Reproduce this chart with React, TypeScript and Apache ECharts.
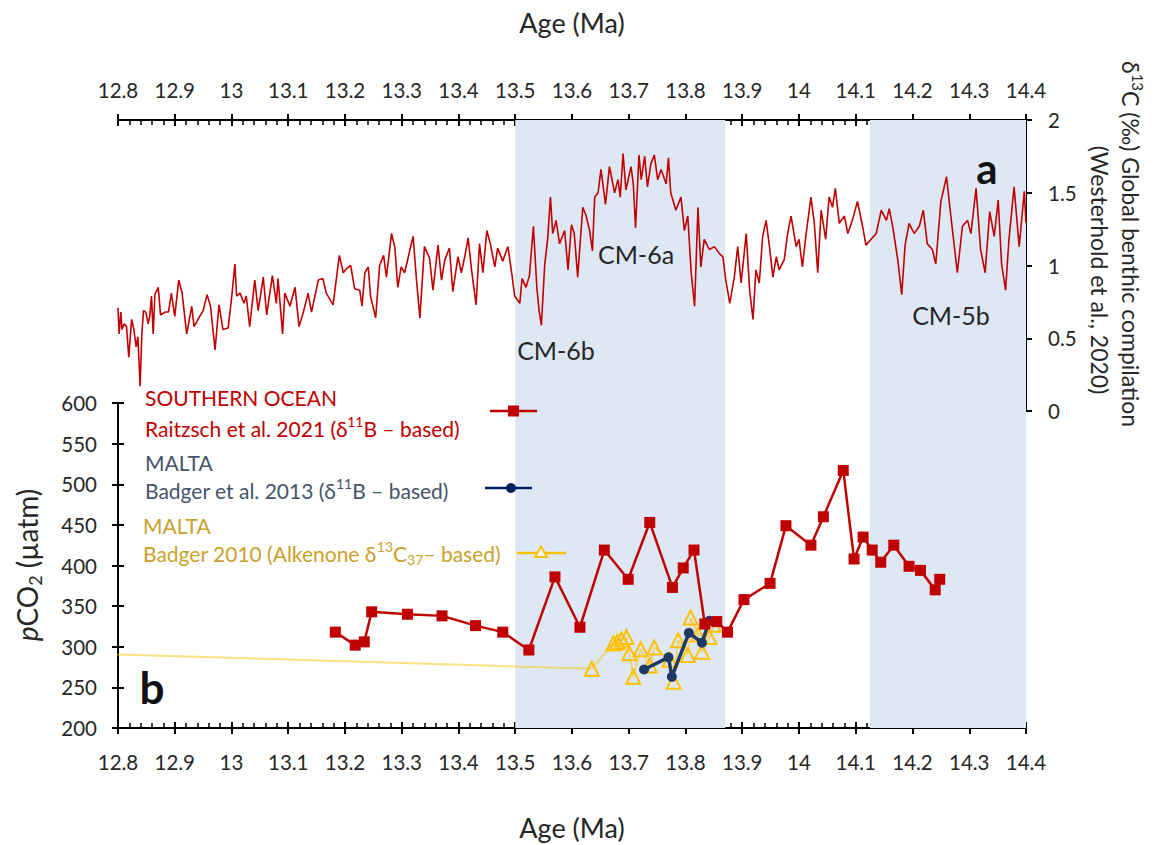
import { useEffect, useRef } from "react";
import * as echarts from "echarts";

const FONT = "Lato, 'Noto Sans', 'DejaVu Sans', sans-serif";

// Shared age axis (Ma)
const AGE_MIN = 12.8;
const AGE_MAX = 14.4;
const AGE_STEP = 0.1;

// Panel a: benthic δ13C (‰)
const D13C_MIN = 0;
const D13C_MAX = 2;
const D13C_STEP = 0.5;

// Panel b: pCO2 (µatm)
const PCO2_MIN = 200;
const PCO2_MAX = 600;
const PCO2_STEP = 50;

// Carbon-isotope maxima intervals (shaded bands), ages in Ma
const shadedIntervals: [number, number][] = [
  [13.5, 13.87],
  [14.125, 14.4],
];

// Global benthic δ13C compilation (Westerhold et al., 2020): [age, δ13C]
const benthicD13C: [number, number][] = [
  [12.8, 0.71], [12.802, 0.53], [12.805, 0.68], [12.807, 0.56], [12.811, 0.6], [12.815, 0.58],
  [12.819, 0.37], [12.824, 0.63], [12.828, 0.56], [12.832, 0.44], [12.835, 0.51], [12.839, 0.17],
  [12.842, 0.53], [12.845, 0.69], [12.849, 0.68], [12.853, 0.6], [12.856, 0.65], [12.859, 0.79],
  [12.862, 0.53], [12.865, 0.8], [12.871, 0.85], [12.875, 0.66], [12.883, 0.68], [12.889, 0.68],
  [12.894, 0.81], [12.9, 0.65], [12.907, 0.9], [12.913, 0.81], [12.921, 0.53], [12.93, 0.72],
  [12.934, 0.58], [12.944, 0.65], [12.95, 0.69], [12.957, 0.8], [12.963, 0.72], [12.971, 0.42],
  [12.978, 0.73], [12.985, 0.56], [12.994, 0.57], [13.0, 0.77], [13.006, 1.01], [13.009, 0.79],
  [13.015, 0.81], [13.022, 0.74], [13.026, 0.79], [13.032, 0.58], [13.041, 0.9], [13.047, 0.69],
  [13.056, 0.92], [13.062, 0.66], [13.072, 0.93], [13.079, 0.74], [13.082, 0.91], [13.09, 0.53],
  [13.094, 0.81], [13.103, 0.72], [13.112, 0.85], [13.119, 0.58], [13.126, 0.67], [13.135, 0.81],
  [13.141, 0.68], [13.153, 0.9], [13.161, 0.91], [13.167, 0.81], [13.179, 0.73], [13.19, 1.07],
  [13.197, 0.95], [13.203, 0.98], [13.21, 1.0], [13.217, 0.84], [13.226, 0.83], [13.23, 0.72],
  [13.235, 0.95], [13.241, 0.99], [13.245, 0.79], [13.254, 0.64], [13.261, 1.0], [13.268, 1.07],
  [13.273, 0.92], [13.282, 1.22], [13.288, 1.12], [13.293, 0.85], [13.299, 0.99], [13.305, 0.95],
  [13.311, 1.05], [13.32, 1.2], [13.326, 0.9], [13.332, 0.64], [13.34, 1.13], [13.349, 1.05],
  [13.355, 0.83], [13.364, 1.14], [13.37, 0.9], [13.376, 1.04], [13.384, 1.12], [13.39, 0.82],
  [13.399, 1.06], [13.405, 0.95], [13.411, 1.06], [13.417, 1.19], [13.423, 0.97], [13.431, 0.73],
  [13.437, 1.15], [13.443, 0.95], [13.45, 1.24], [13.456, 1.15], [13.464, 0.99], [13.469, 1.12],
  [13.478, 1.03], [13.487, 1.13], [13.493, 0.97], [13.499, 0.79], [13.508, 0.74], [13.512, 0.91],
  [13.519, 0.85], [13.525, 0.93], [13.532, 1.27], [13.538, 0.85], [13.542, 0.69], [13.546, 0.59],
  [13.552, 1.01], [13.557, 1.18], [13.562, 1.47], [13.566, 1.22], [13.572, 1.31], [13.578, 1.15],
  [13.587, 1.24], [13.593, 0.97], [13.599, 1.28], [13.604, 1.22], [13.61, 0.92], [13.619, 1.4],
  [13.625, 1.34], [13.631, 1.24], [13.636, 1.1], [13.64, 1.47], [13.646, 1.5], [13.651, 1.66],
  [13.659, 1.42], [13.666, 1.68], [13.675, 1.5], [13.681, 1.59], [13.685, 1.47], [13.69, 1.77],
  [13.695, 1.52], [13.704, 1.68], [13.708, 1.56], [13.712, 1.26], [13.718, 1.76], [13.722, 1.59],
  [13.728, 1.75], [13.733, 1.54], [13.739, 1.7], [13.745, 1.76], [13.751, 1.59], [13.757, 1.66],
  [13.766, 1.56], [13.77, 1.74], [13.774, 1.5], [13.783, 1.38], [13.792, 1.47], [13.798, 1.24],
  [13.804, 1.34], [13.81, 0.95], [13.816, 0.72], [13.822, 1.4], [13.827, 0.99], [13.833, 1.18],
  [13.842, 1.11], [13.851, 1.13], [13.86, 1.08], [13.866, 1.06], [13.871, 0.9], [13.878, 0.74],
  [13.886, 0.92], [13.892, 1.13], [13.898, 0.88], [13.907, 1.22], [13.913, 0.83], [13.919, 0.63],
  [13.924, 0.97], [13.93, 0.88], [13.936, 1.2], [13.942, 1.31], [13.948, 1.13], [13.954, 0.92],
  [13.96, 1.06], [13.965, 0.97], [13.974, 1.04], [13.98, 1.22], [13.986, 1.34], [13.995, 1.13],
  [14.0, 1.18], [14.006, 0.99], [14.012, 1.2], [14.021, 1.47], [14.027, 1.29], [14.033, 0.95],
  [14.039, 1.38], [14.047, 1.18], [14.053, 1.47], [14.059, 1.4], [14.064, 1.53], [14.071, 1.29],
  [14.08, 1.34], [14.086, 1.22], [14.094, 1.31], [14.103, 1.44], [14.112, 1.27], [14.118, 1.14],
  [14.127, 1.18], [14.136, 1.22], [14.145, 1.38], [14.154, 1.31], [14.159, 1.39], [14.165, 1.27],
  [14.174, 1.04], [14.181, 0.8], [14.187, 1.14], [14.194, 1.29], [14.203, 1.22], [14.212, 1.27],
  [14.219, 1.38], [14.226, 1.15], [14.235, 1.11], [14.241, 1.01], [14.25, 1.44], [14.26, 1.61],
  [14.267, 1.36], [14.279, 0.95], [14.288, 1.27], [14.297, 1.31], [14.303, 1.22], [14.312, 1.53],
  [14.32, 1.11], [14.328, 0.95], [14.336, 1.37], [14.344, 1.2], [14.351, 1.45], [14.357, 1.01],
  [14.364, 0.83], [14.37, 1.18], [14.379, 1.54], [14.388, 1.13], [14.397, 1.51], [14.4, 1.29],
];

// Southern Ocean, Raitzsch et al. 2021 (δ11B-based): [age, pCO2]
const raitzschPco2: [number, number][] = [
  [13.183, 318], [13.218, 302], [13.234, 306], [13.247, 343], [13.31, 340], [13.371, 338],
  [13.43, 326], [13.478, 318], [13.524, 296], [13.57, 386], [13.614, 324], [13.657, 419],
  [13.699, 383], [13.737, 453], [13.777, 373], [13.796, 397], [13.815, 419], [13.834, 328],
  [13.855, 331], [13.874, 318], [13.903, 358], [13.949, 378], [13.977, 449], [14.021, 425],
  [14.043, 460], [14.078, 517], [14.097, 408], [14.113, 435], [14.129, 419], [14.144, 404],
  [14.167, 425], [14.194, 399], [14.214, 394], [14.24, 370], [14.248, 383],
];

// Malta, Badger et al. 2013 (δ11B-based): [age, pCO2]
const badger2013Pco2: [number, number][] = [
  [13.727, 272], [13.77, 287], [13.776, 263], [13.806, 317], [13.829, 305], [13.842, 332],
];

// Malta, Badger 2010 (alkenone δ13C37-based): [age, pCO2]
const badger2010Pco2: [number, number][] = [
  [12.3, 301], [13.635, 273], [13.673, 304], [13.68, 306], [13.687, 309], [13.696, 312],
  [13.701, 292], [13.708, 263], [13.721, 297], [13.737, 277], [13.745, 299], [13.772, 284],
  [13.779, 257], [13.787, 308], [13.804, 290], [13.809, 336], [13.822, 315], [13.829, 294],
  [13.842, 312], [13.85, 327],
];

const RED = "#C00000";
const NAVY = "#1F3864";
const GOLD = "#FFC000";
const BAND = "#DEE8F4";
const INK = "#262626";
const TICK_FONT = 20.5;

const richSet = (size: number) => ({
  n: { fontFamily: FONT, fontSize: size, lineHeight: size + 6 },
  i: { fontFamily: FONT, fontSize: size, fontStyle: "italic", lineHeight: size + 6 },
  sup: { fontFamily: FONT, fontSize: Math.round(size * 0.66), verticalAlign: "top", lineHeight: Math.round(size * 0.66) + 2 },
  sub: { fontFamily: FONT, fontSize: Math.round(size * 0.66), verticalAlign: "bottom", lineHeight: Math.round(size * 0.66) + 2 },
});

function text(t: string, x: number, y: number, extra: any = {}) {
  return {
    type: "text",
    x,
    y,
    z: 100,
    silent: true,
    style: {
      text: t,
      fontFamily: FONT,
      fontSize: 21,
      fill: INK,
      align: "left",
      verticalAlign: "middle",
      ...extra,
    },
  };
}

function ageAxis(gridIndex: number, position: "top" | "bottom", labelMargin: number, nameGap: number) {
  return {
    type: "value",
    gridIndex,
    position,
    min: AGE_MIN,
    max: AGE_MAX,
    interval: AGE_STEP,
    axisLine: { show: true, onZero: false, lineStyle: { color: "#000", width: 2 } },
    axisTick: { show: true, inside: true, length: 6, lineStyle: { color: "#000", width: 2 } },
    minorTick: { show: true, splitNumber: 5, length: 5, lineStyle: { color: "#000", width: 1.5 } },
    axisLabel: { show: true, margin: labelMargin, fontSize: TICK_FONT, color: INK, fontFamily: FONT },
    splitLine: { show: false },
    minorSplitLine: { show: false },
    name: "Age (Ma)",
    nameLocation: "middle",
    nameGap,
    nameTextStyle: { fontSize: 27, color: INK, fontFamily: FONT },
  };
}

// Second copy of an axis carrying only the outward half of the major ticks
function outwardTicks(gridIndex: number, position: string, min: number, max: number, interval: number) {
  return {
    type: "value",
    gridIndex,
    position,
    min,
    max,
    interval,
    axisLine: { show: false, onZero: false },
    axisTick: { show: true, inside: false, length: 6, lineStyle: { color: "#000", width: 2 } },
    minorTick: { show: false },
    axisLabel: { show: false },
    splitLine: { show: false },
    name: "",
  };
}

function buildOption(): any {
  const gA = { left: 118, top: 120, width: 908, height: 291, outerBoundsMode: "none", containLabel: false };
  const gB = { left: 118, top: 403, width: 908, height: 325, outerBoundsMode: "none", containLabel: false };
  const gBand = { left: 118, top: 120, width: 908, height: 608, outerBoundsMode: "none", containLabel: false };

  const legendRich = richSet(21);
  const nameRich = richSet(28);
  const rightRich = richSet(23);

  return {
    animation: false,
    backgroundColor: "#ffffff",
    grid: [gA, gB, gBand],
    xAxis: [
      ageAxis(0, "top", 20, 84),
      outwardTicks(0, "top", AGE_MIN, AGE_MAX, AGE_STEP),
      ageAxis(1, "bottom", 23, 86),
      outwardTicks(1, "bottom", AGE_MIN, AGE_MAX, AGE_STEP),
      { type: "value", gridIndex: 2, min: AGE_MIN, max: AGE_MAX, show: false },
    ],
    yAxis: [
      {
        type: "value",
        gridIndex: 0,
        position: "right",
        min: D13C_MIN,
        max: D13C_MAX,
        interval: D13C_STEP,
        axisLine: { show: true, onZero: false, lineStyle: { color: "#000", width: 2 } },
        axisTick: { show: true, inside: true, length: 6, lineStyle: { color: "#000", width: 2 } },
        minorTick: { show: true, splitNumber: 5, length: 5, lineStyle: { color: "#000", width: 1.5 } },
        axisLabel: { show: true, margin: 22, fontSize: TICK_FONT, color: INK, fontFamily: FONT },
        splitLine: { show: false },
        minorSplitLine: { show: false },
      },
      outwardTicks(0, "right", D13C_MIN, D13C_MAX, D13C_STEP),
      {
        type: "value",
        gridIndex: 1,
        position: "left",
        min: PCO2_MIN,
        max: PCO2_MAX,
        interval: PCO2_STEP,
        axisLine: { show: true, onZero: false, lineStyle: { color: "#000", width: 2 } },
        axisTick: { show: true, inside: true, length: 6, lineStyle: { color: "#000", width: 2 } },
        axisLabel: { show: true, margin: 21, fontSize: TICK_FONT, color: INK, fontFamily: FONT },
        splitLine: { show: false },
      },
      outwardTicks(1, "left", PCO2_MIN, PCO2_MAX, PCO2_STEP),
      { type: "value", gridIndex: 2, min: 0, max: 1, show: false },
    ],
    series: [
      {
        type: "line",
        name: "CM intervals",
        xAxisIndex: 4,
        yAxisIndex: 4,
        data: [],
        silent: true,
        z: -1,
        markArea: {
          silent: true,
          itemStyle: { color: BAND },
          data: shadedIntervals.map(([a, b]) => [{ xAxis: a }, { xAxis: b }]),
        },
      },
      {
        type: "line",
        name: "Westerhold et al., 2020",
        xAxisIndex: 0,
        yAxisIndex: 0,
        data: benthicD13C,
        showSymbol: false,
        lineStyle: { color: RED, width: 1.6 },
        itemStyle: { color: RED },
        z: 3,
      },
      {
        type: "line",
        name: "Badger 2010",
        xAxisIndex: 2,
        yAxisIndex: 2,
        data: badger2010Pco2,
        symbol: "triangle",
        symbolSize: 14,
        showSymbol: true,
        lineStyle: { color: "rgba(255,192,0,0.5)", width: 2 },
        itemStyle: { color: "rgba(255,255,255,0)", borderColor: GOLD, borderWidth: 2 },
        z: 3,
      },
      {
        type: "line",
        name: "Badger et al. 2013",
        xAxisIndex: 2,
        yAxisIndex: 2,
        data: badger2013Pco2,
        symbol: "circle",
        symbolSize: 10,
        showSymbol: true,
        lineStyle: { color: NAVY, width: 3.5 },
        itemStyle: { color: NAVY },
        z: 4,
      },
      {
        type: "line",
        name: "Raitzsch et al. 2021",
        xAxisIndex: 2,
        yAxisIndex: 2,
        data: raitzschPco2,
        symbol: "rect",
        symbolSize: 11,
        showSymbol: true,
        lineStyle: { color: RED, width: 2.5 },
        itemStyle: { color: RED },
        z: 5,
      },
    ],
    graphic: [
      // interval annotations
      text("CM-6b", 556, 350, { align: "center", fontSize: 25 }),
      text("CM-6a", 636, 254, { align: "center", fontSize: 25 }),
      text("CM-5b", 951, 315, { align: "center", fontSize: 25 }),
      // panel letters
      text("a", 987, 168, { align: "center", fontSize: 42, fontWeight: "bold", fill: "#111" }),
      text("b", 152, 687, { align: "center", fontSize: 44, fontWeight: "bold", fill: "#111" }),

      // legend: Southern Ocean
      text("SOUTHERN OCEAN", 145, 397, { fill: RED }),
      text("{n|Raitzsch et al. 2021 (δ}{sup|11}{n|B – based)}", 145, 428, { fill: RED, rich: legendRich }),
      { type: "line", z: 100, silent: true, shape: { x1: 490, y1: 411, x2: 537, y2: 411 }, style: { stroke: RED, lineWidth: 2.5 } },
      { type: "rect", z: 101, silent: true, shape: { x: 508, y: 405.5, width: 11, height: 11 }, style: { fill: RED } },

      // legend: Malta boron
      text("MALTA", 145, 462, { fill: "#44546A" }),
      text("{n|Badger et al. 2013 (δ}{sup|11}{n|B – based)}", 145, 490, { fill: "#44546A", rich: legendRich }),
      { type: "line", z: 100, silent: true, shape: { x1: 485, y1: 488, x2: 532, y2: 488 }, style: { stroke: "#002060", lineWidth: 2.5 } },
      { type: "circle", z: 101, silent: true, shape: { cx: 511, cy: 488, r: 5 }, style: { fill: "#002060" } },

      // legend: Malta alkenone
      text("MALTA", 143, 525, { fill: "#C9A12B" }),
      text("{n|Badger 2010 (Alkenone δ}{sup|13}{n|C}{sub|37}{n|– based)}", 143, 553, { fill: "#C9A12B", rich: legendRich }),
      { type: "line", z: 100, silent: true, shape: { x1: 517, y1: 553, x2: 566, y2: 553 }, style: { stroke: GOLD, lineWidth: 2.5 } },
      {
        type: "polygon",
        z: 101,
        silent: true,
        shape: { points: [[541, 546.5], [535, 557], [547, 557]] },
        style: { fill: "#ffffff", stroke: GOLD, lineWidth: 2 },
      },

      // rotated axis titles
      {
        type: "text",
        x: 27,
        y: 565,
        z: 100,
        rotation: Math.PI / 2,
        silent: true,
        style: {
          text: "{i|p}{n|CO}{sub|2}{n| (µatm)}",
          rich: nameRich,
          fill: INK,
          fontFamily: FONT,
          fontSize: 28,
          align: "center",
          verticalAlign: "middle",
        },
      },
      {
        type: "text",
        x: 1131,
        y: 244,
        z: 100,
        rotation: -Math.PI / 2,
        silent: true,
        style: {
          text: "{n|δ}{sup|13}{n|C (‰) Global benthic compilation}",
          rich: rightRich,
          fill: INK,
          fontFamily: FONT,
          fontSize: 23,
          align: "center",
          verticalAlign: "middle",
        },
      },
      {
        type: "text",
        x: 1100,
        y: 270,
        z: 100,
        rotation: -Math.PI / 2,
        silent: true,
        style: {
          text: "(Westerhold et al., 2020)",
          fill: INK,
          fontFamily: FONT,
          fontSize: 23,
          align: "center",
          verticalAlign: "middle",
        },
      },
    ],
  };
}

export default function App() {
  const ref = useRef<HTMLDivElement>(null);
  useEffect(() => {
    if (!ref.current) return;
    const chart = echarts.init(ref.current, null, { renderer: "svg" });
    chart.setOption(buildOption());
    return () => chart.dispose();
  }, []);
  return (
    <div
      ref={ref}
      style={{ position: "absolute", left: 0, top: 0, width: 1158, height: 845, background: "#fff" }}
    />
  );
}
